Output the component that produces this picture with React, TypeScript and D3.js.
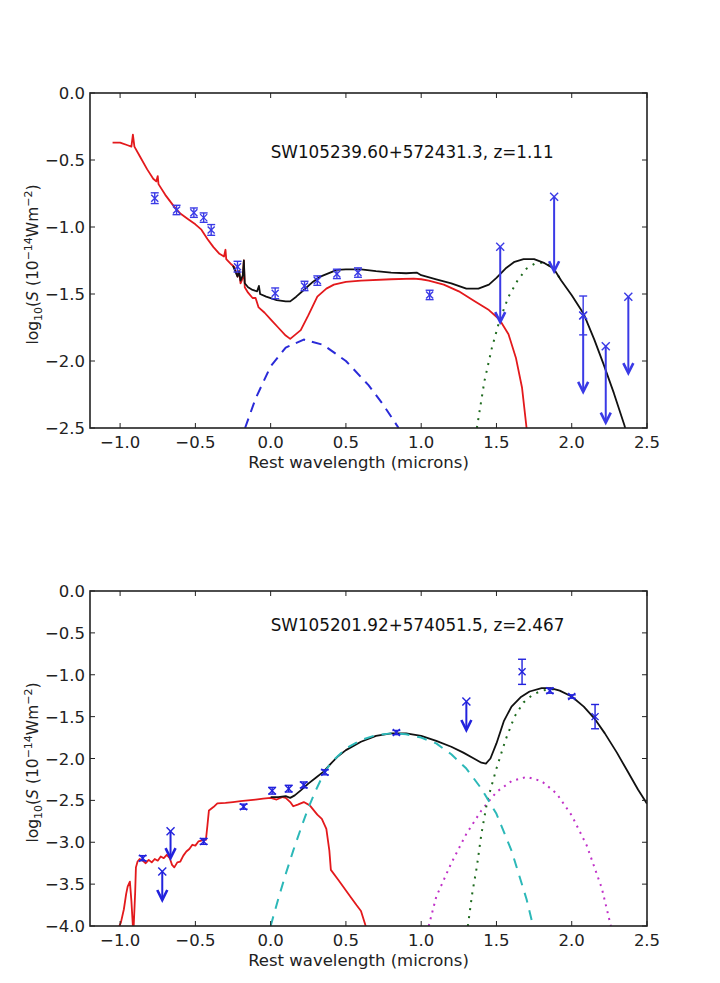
import React from "react";
import * as d3 from "d3";

type P = [number, number];

const xTicks = [-1.0, -0.5, 0.0, 0.5, 1.0, 1.5, 2.0, 2.5];
const yTicksTop = [0.0, -0.5, -1.0, -1.5, -2.0, -2.5];
const yTicksBottom = [0.0, -0.5, -1.0, -1.5, -2.0, -2.5, -3.0, -3.5, -4.0];
const titleTop = "SW105239.60+572431.3, z=1.11";
const titleBottom = "SW105201.92+574051.5, z=2.467";
const xLabel = "Rest wavelength (microns)";

// ---------- Top panel ----------
const topRed: P[] = [
  [-1.05, -0.37], [-1.0, -0.37], [-0.95, -0.39], [-0.925, -0.40], [-0.915, -0.31], [-0.905, -0.40],
  [-0.87, -0.47], [-0.82, -0.57], [-0.78, -0.64], [-0.76, -0.66], [-0.75, -0.62], [-0.745, -0.68],
  [-0.7, -0.76], [-0.64, -0.85], [-0.6, -0.9], [-0.55, -0.94], [-0.5, -0.98], [-0.46, -1.02],
  [-0.42, -1.09], [-0.38, -1.15], [-0.34, -1.2], [-0.31, -1.22], [-0.3, -1.17], [-0.295, -1.24],
  [-0.26, -1.28], [-0.24, -1.3], [-0.22, -1.37], [-0.21, -1.33], [-0.2, -1.42], [-0.185, -1.38],
  [-0.178, -1.25], [-0.172, -1.45], [-0.15, -1.49], [-0.12, -1.53], [-0.1, -1.53], [-0.08, -1.6],
  [-0.04, -1.64], [0.0, -1.69], [0.05, -1.75], [0.1, -1.81], [0.13, -1.835], [0.2, -1.77],
  [0.25, -1.66], [0.31, -1.52], [0.37, -1.46], [0.42, -1.43], [0.5, -1.41],
  [0.6, -1.40], [0.8, -1.39], [0.95, -1.385], [1.0, -1.39], [1.05, -1.40], [1.15, -1.43],
  [1.25, -1.48], [1.35, -1.55], [1.45, -1.62], [1.52, -1.69], [1.58, -1.8], [1.63, -1.98],
  [1.67, -2.2], [1.7, -2.5], [1.71, -2.6],
];
const topTotal: P[] = [
  [-0.25, -1.29], [-0.22, -1.37], [-0.21, -1.33], [-0.2, -1.4], [-0.185, -1.36], [-0.178, -1.25],
  [-0.172, -1.42], [-0.15, -1.45], [-0.12, -1.47], [-0.09, -1.48], [-0.078, -1.44], [-0.07, -1.5],
  [-0.03, -1.52], [0.04, -1.545], [0.1, -1.555], [0.13, -1.555], [0.17, -1.52], [0.22, -1.47],
  [0.28, -1.41], [0.33, -1.37], [0.44, -1.32], [0.5, -1.316], [0.6, -1.316], [0.7, -1.33],
  [0.8, -1.34], [0.9, -1.345], [0.97, -1.34], [1.0, -1.36], [1.1, -1.39], [1.2, -1.42],
  [1.3, -1.46], [1.38, -1.46], [1.45, -1.43], [1.5, -1.38], [1.56, -1.31], [1.62, -1.26],
  [1.68, -1.24], [1.75, -1.24], [1.82, -1.27], [1.88, -1.31], [1.93, -1.4], [2.0, -1.51],
  [2.08, -1.65], [2.15, -1.84], [2.21, -2.02], [2.28, -2.24], [2.35, -2.48], [2.37, -2.56],
];
const topHotDust: P[] = [
  [-0.17, -2.5], [-0.1, -2.28], [0.0, -2.04], [0.1, -1.9], [0.22, -1.84], [0.35, -1.88],
  [0.5, -2.0], [0.65, -2.18], [0.75, -2.33], [0.85, -2.5],
];
const topCoolDust: P[] = [
  [1.37, -2.5], [1.42, -2.15], [1.47, -1.9], [1.52, -1.7], [1.58, -1.52], [1.64, -1.4],
  [1.7, -1.31], [1.76, -1.27], [1.82, -1.265], [1.88, -1.31], [1.93, -1.4],
];
const topDetX = [-0.77, -0.625, -0.51, -0.445, -0.395, -0.22, 0.03, 0.225, 0.31, 0.44, 0.58, 1.056, 2.076];
const topDetY = [-0.785, -0.873, -0.893, -0.93, -1.022, -1.296, -1.495, -1.44, -1.40, -1.35, -1.34, -1.507, -1.66];
const topDetErr = [0.04, 0.035, 0.035, 0.035, 0.04, 0.04, 0.04, 0.035, 0.035, 0.035, 0.035, 0.035, 0.145];
const topLimX = [1.525, 1.883, 2.076, 2.226, 2.376];
const topLimY = [-1.147, -0.774, -1.66, -1.89, -1.52];
const topLimTip = [-1.71, -1.33, -2.23, -2.46, -2.09];

// ---------- Bottom panel ----------
const botRed: P[] = [
  [-1.03, -4.1], [-0.995, -3.96], [-0.975, -3.8], [-0.96, -3.62], [-0.95, -3.53], [-0.935, -3.47],
  [-0.925, -3.7], [-0.912, -4.1], [-0.9, -3.6], [-0.895, -3.3], [-0.884, -3.23], [-0.87, -3.2],
  [-0.85, -3.22], [-0.83, -3.25], [-0.81, -3.21], [-0.79, -3.24], [-0.77, -3.2], [-0.75, -3.22],
  [-0.73, -3.17], [-0.71, -3.19], [-0.69, -3.15], [-0.67, -3.19], [-0.655, -3.27], [-0.64, -3.3],
  [-0.62, -3.24], [-0.6, -3.23], [-0.58, -3.16], [-0.56, -3.11], [-0.54, -3.08], [-0.52, -3.03],
  [-0.5, -3.04], [-0.48, -2.99], [-0.46, -2.98], [-0.44, -2.96], [-0.43, -2.97], [-0.42, -2.8],
  [-0.41, -2.62], [-0.38, -2.58], [-0.354, -2.535], [-0.3, -2.53], [-0.25, -2.52], [-0.2, -2.51],
  [-0.15, -2.5], [-0.1, -2.49], [-0.05, -2.48], [0.0, -2.47], [0.04, -2.49], [0.08, -2.46],
  [0.1, -2.47], [0.13, -2.52], [0.15, -2.57], [0.18, -2.55], [0.22, -2.52], [0.26, -2.56],
  [0.31, -2.67], [0.34, -2.72], [0.37, -2.84], [0.39, -3.1], [0.4, -3.33],
  [0.45, -3.45], [0.53, -3.65], [0.57, -3.75], [0.6, -3.82], [0.64, -4.05],
];
const botTotal: P[] = [
  [0.0, -2.46], [0.05, -2.46], [0.1, -2.45], [0.13, -2.47], [0.16, -2.44], [0.2, -2.38],
  [0.25, -2.3], [0.3, -2.23], [0.35, -2.16], [0.4, -2.06], [0.45, -1.97], [0.5, -1.9],
  [0.6, -1.8], [0.7, -1.73], [0.8, -1.7], [0.9, -1.7], [1.0, -1.73], [1.1, -1.79],
  [1.2, -1.86], [1.28, -1.93], [1.35, -2.0], [1.4, -2.05], [1.43, -2.06], [1.46, -2.0],
  [1.5, -1.82], [1.55, -1.55], [1.6, -1.38], [1.66, -1.27], [1.72, -1.2], [1.8, -1.16],
  [1.86, -1.16], [1.92, -1.19], [2.0, -1.26], [2.08, -1.38], [2.15, -1.52], [2.22, -1.7],
  [2.3, -1.93], [2.37, -2.15], [2.44, -2.37], [2.5, -2.54],
];
const botAgn: P[] = [
  [0.0, -4.0], [0.05, -3.68], [0.1, -3.38], [0.15, -3.1], [0.2, -2.84], [0.25, -2.59],
  [0.3, -2.38], [0.35, -2.19], [0.4, -2.05], [0.5, -1.88], [0.6, -1.78], [0.7, -1.72],
  [0.8, -1.7], [0.9, -1.71], [1.0, -1.75], [1.1, -1.82], [1.2, -1.95], [1.3, -2.12],
  [1.4, -2.36], [1.5, -2.66], [1.6, -3.1], [1.7, -3.68], [1.75, -4.05],
];
const botCoolDust: P[] = [
  [1.31, -4.0], [1.34, -3.6], [1.37, -3.29], [1.4, -2.9], [1.44, -2.5], [1.5, -2.12],
  [1.56, -1.78], [1.62, -1.5], [1.68, -1.33], [1.74, -1.24], [1.8, -1.19], [1.86, -1.17],
  [1.9, -1.18],
];
const botStarburst: P[] = [
  [1.05, -4.0], [1.1, -3.65], [1.2, -3.25], [1.3, -2.9], [1.4, -2.62], [1.5, -2.4],
  [1.6, -2.27], [1.7, -2.22], [1.8, -2.27], [1.9, -2.42], [2.0, -2.68], [2.1, -3.04],
  [2.2, -3.55], [2.26, -4.0],
];
const botDetX = [-0.85, -0.445, -0.18, 0.01, 0.12, 0.22, 0.36, 0.835, 1.67, 1.855, 2.0, 2.155];
const botDetY = [-3.19, -2.99, -2.575, -2.385, -2.36, -2.315, -2.165, -1.69, -0.965, -1.19, -1.26, -1.50];
const botDetErr = [0.03, 0.035, 0.03, 0.04, 0.04, 0.035, 0.03, 0.025, 0.15, 0.03, 0.02, 0.145];
const botLimX = [-0.665, -0.72, 1.30];
const botLimY = [-2.87, -3.35, -1.32];
const botLimTip = [-3.19, -3.69, -1.66];

const RED = "#e3191c";

type Curve = { pts: P[]; color: string; width: number; dash?: string };

function Panel(props: {
  top: number;
  bottom: number;
  yDomain: [number, number];
  yTicks: number[];
  title: string;
  titleY: number;
  curves: Curve[];
  detX: number[];
  detY: number[];
  detErr: number[];
  limX: number[];
  limY: number[];
  limTip: number[];
  id: string;
  blue: string;
}) {
  const left = 90, right = 647;
  const BLUE = props.blue;
  const x = d3.scaleLinear().domain([-1.2, 2.5]).range([left, right]);
  const y = d3.scaleLinear().domain(props.yDomain).range([props.top, props.bottom]);
  const line = d3.line<P>().x((d) => x(d[0])).y((d) => y(d[1]));
  const fmt = d3.format(".1f");
  const fs = 16.5;
  const midY = (props.top + props.bottom) / 2 + 4;
  return (
    <g>
      <defs>
        <clipPath id={props.id}>
          <rect x={left} y={props.top} width={right - left} height={props.bottom - props.top} />
        </clipPath>
      </defs>
      <g clipPath={`url(#${props.id})`}>
        {props.curves.map((c, i) => (
          <path key={i} d={line(c.pts) || ""} fill="none" stroke={c.color} strokeWidth={c.width}
            strokeDasharray={c.dash} strokeLinejoin="round" />
        ))}
        {props.detX.map((dx, i) => {
          const cx = x(dx), cy = y(props.detY[i]);
          const y1 = y(props.detY[i] + props.detErr[i]);
          const y2 = y(props.detY[i] - props.detErr[i]);
          const m = 3.5, cap = 4;
          return (
            <g key={"d" + i} stroke={BLUE} strokeWidth={1.4} fill="none">
              <line x1={cx} x2={cx} y1={y1} y2={y2} />
              <line x1={cx - cap} x2={cx + cap} y1={y1} y2={y1} />
              <line x1={cx - cap} x2={cx + cap} y1={y2} y2={y2} />
              <line x1={cx - m} x2={cx + m} y1={cy - m} y2={cy + m} />
              <line x1={cx - m} x2={cx + m} y1={cy + m} y2={cy - m} />
            </g>
          );
        })}
        {props.limX.map((lx, i) => {
          const cx = x(lx), cy = y(props.limY[i]), ty = y(props.limTip[i]);
          const m = 4;
          return (
            <g key={"l" + i} stroke={BLUE} fill="none">
              <line x1={cx} x2={cx} y1={cy} y2={ty} strokeWidth={2} />
              <path d={`M${cx - 5},${ty - 10}L${cx},${ty}L${cx + 5},${ty - 10}`} strokeWidth={2.6}
                strokeLinejoin="miter" />
              <line x1={cx - m} x2={cx + m} y1={cy - m} y2={cy + m} strokeWidth={1.4} />
              <line x1={cx - m} x2={cx + m} y1={cy + m} y2={cy - m} strokeWidth={1.4} />
            </g>
          );
        })}
      </g>
      <rect x={left} y={props.top} width={right - left} height={props.bottom - props.top}
        fill="none" stroke="#222" strokeWidth={1.6} />
      {xTicks.map((t) => (
        <g key={"xt" + t}>
          <line x1={x(t)} x2={x(t)} y1={props.bottom} y2={props.bottom - 5} stroke="#222" strokeWidth={1} />
          <line x1={x(t)} x2={x(t)} y1={props.top} y2={props.top + 5} stroke="#222" strokeWidth={1} />
          <text x={x(t)} y={props.bottom + 20} textAnchor="middle" fontSize={fs} fill="#222">{fmt(t)}</text>
        </g>
      ))}
      {props.yTicks.map((t) => (
        <g key={"yt" + t}>
          <line x1={left} x2={left + 5} y1={y(t)} y2={y(t)} stroke="#222" strokeWidth={1} />
          <line x1={right} x2={right - 5} y1={y(t)} y2={y(t)} stroke="#222" strokeWidth={1} />
          <text x={left - 5} y={y(t) + 6} textAnchor="end" fontSize={fs} fill="#222">{fmt(t)}</text>
        </g>
      ))}
      <text x={(left + right) / 2 - 10} y={props.bottom + 40} textAnchor="middle" fontSize={fs} fill="#222">
        {xLabel}
      </text>
      <text transform={`translate(38,${midY}) rotate(-90)`} textAnchor="middle" fontSize={15.5} fill="#222">
        log<tspan fontSize={11} dy={4}>10</tspan>
        <tspan dy={-4}>(</tspan>
        <tspan fontStyle="italic">S</tspan>
        <tspan> (10</tspan>
        <tspan fontSize={11} dy={-6}>−14</tspan>
        <tspan dy={6}>Wm</tspan>
        <tspan fontSize={11} dy={-6}>−2</tspan>
        <tspan dy={6}>)</tspan>
      </text>
      <text x={x(0.0)} y={props.titleY} fontSize={16.8} fill="#111">{props.title}</text>
    </g>
  );
}

export default function App() {
  return (
    <svg width={720} height={983} style={{ position: "absolute", left: 0, top: 0, background: "#fff" }}
      fontFamily="'DejaVu Sans', sans-serif">
      <rect width={720} height={983} fill="#fff" />
      <Panel id="clipTop" top={93} bottom={428} yDomain={[0, -2.5]} yTicks={yTicksTop}
        title={titleTop} titleY={158} blue="#3a3ae6"
        curves={[
          { pts: topHotDust, color: "#2a2ad8", width: 2, dash: "10,7" },
          { pts: topCoolDust, color: "#1e6a1e", width: 2, dash: "2,6" },
          { pts: topRed, color: RED, width: 1.8 },
          { pts: topTotal, color: "#111", width: 1.8 },
        ]}
        detX={topDetX} detY={topDetY} detErr={topDetErr}
        limX={topLimX} limY={topLimY} limTip={topLimTip} />
      <Panel id="clipBot" top={591} bottom={926} yDomain={[0, -4]} yTicks={yTicksBottom}
        title={titleBottom} titleY={631} blue="#2222dd"
        curves={[
          { pts: botStarburst, color: "#c030c8", width: 2, dash: "2,5" },
          { pts: botCoolDust, color: "#1e6a1e", width: 2, dash: "2,6" },
          { pts: botRed, color: RED, width: 1.8 },
          { pts: botTotal, color: "#111", width: 1.8 },
          { pts: botAgn, color: "#2cb8b8", width: 2, dash: "10,8" },
        ]}
        detX={botDetX} detY={botDetY} detErr={botDetErr}
        limX={botLimX} limY={botLimY} limTip={botLimTip} />
    </svg>
  );
}
